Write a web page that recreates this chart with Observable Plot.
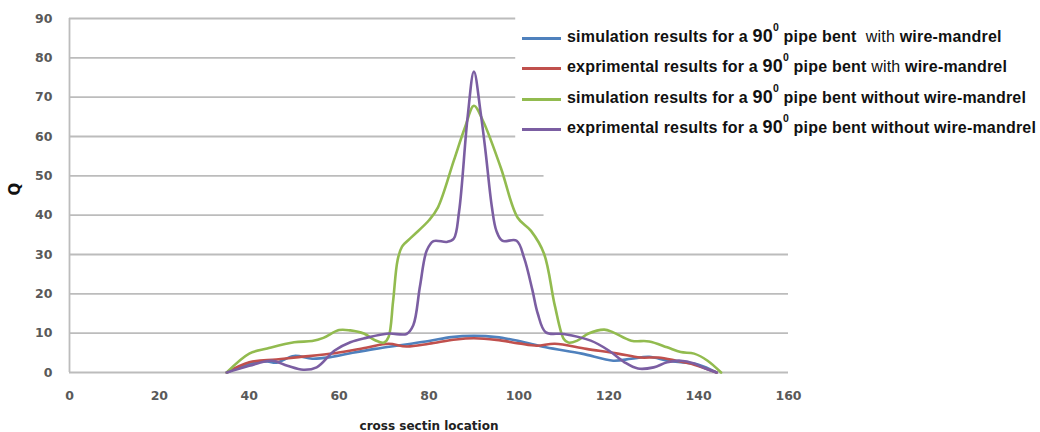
<!DOCTYPE html>
<html>
<head>
<meta charset="utf-8">
<script src="https://cdn.jsdelivr.net/npm/d3@7"></script>
<script src="https://cdn.jsdelivr.net/npm/@observablehq/plot@0.6"></script>
<style>
  html, body { margin: 0; padding: 0; background: #fff; }
  #wrap { position: relative; width: 1040px; height: 432px; overflow: hidden; }
  #legend { position: absolute; left: 522px; top: 21px; font-family: "Liberation Sans", Arial, sans-serif; color: #111; }
  .row { display: flex; align-items: center; height: 30.5px; white-space: pre; }
  .sw { width: 39px; height: 3px; margin-right: 6px; margin-top: 4px; }
  .t { font-size: 16px; font-weight: bold; letter-spacing: 0.2px; }
  .n { font-size: 18px; font-weight: bold; }
  .sup { font-size: 10.5px; font-weight: bold; position: relative; top: -11px; }
  .lt { font-weight: normal; }
</style>
</head>
<body>
<div id="wrap"><div id="legend"></div></div>
<script>
// ---- data ----
const xTicks = [0, 20, 40, 60, 80, 100, 120, 140, 160];
const yTicks = [0, 10, 20, 30, 40, 50, 60, 70, 80, 90];

const seriesNames = [
  "simulation results for a 90 pipe bent with wire-mandrel",
  "exprimental results for a 90 pipe bent with wire-mandrel",
  "simulation results for a 90 pipe bent without wire-mandrel",
  "exprimental results for a 90 pipe bent without wire-mandrel"
];
const seriesColors = ["#4f81bd", "#c0504d", "#92bb4f", "#7b5ea2"];

const simWithX = [35, 40, 44, 46, 50, 54, 58, 63, 68, 74, 80, 85, 90, 95, 100, 106, 114, 121, 125, 129, 133, 136, 140, 144];
const simWithQ = [0, 2.2, 2.8, 2.5, 4.2, 3.5, 3.9, 5, 6, 7, 8, 9, 9.3, 9, 8, 6.4, 4.8, 3, 3.5, 4, 3, 2.6, 2, 0];

const expWithX = [35, 40, 46, 51, 59, 66, 71, 75, 80, 86, 90, 95, 100, 104, 108, 115, 122, 127, 131, 135, 139, 144];
const expWithQ = [0, 2.6, 3.3, 3.9, 4.9, 6.3, 7.3, 6.6, 7.3, 8.4, 8.7, 8.3, 7.4, 6.8, 7.3, 6, 4.8, 3.8, 3.8, 3, 2, 0];

const simWithoutX = [35, 40, 44, 50, 54, 56.5, 60, 62.5, 65.5, 68, 70, 71, 72, 73, 74, 76.3, 80, 82, 85.5, 88, 90, 92, 96, 99.7, 102.7, 105.6, 108, 110, 111, 113, 115.5, 119, 121, 125, 129, 133, 136, 139, 142, 145];
const simWithoutQ = [0, 4.8, 6.1, 7.7, 8, 8.8, 10.8, 10.7, 9.9, 8.2, 7.6, 9, 18, 28.5, 32, 34.6, 38.7, 42, 53.8, 62.3, 67.8, 64, 52, 39.4, 36, 30.2, 17, 8.5, 7.6, 8.1, 9.9, 10.9, 10.2, 8.1, 7.9, 6.4, 5.2, 4.8, 3, 0];

const expWithoutX = [35, 40, 45, 48.5, 52, 55, 59, 62.5, 66, 71, 75, 76.5, 78, 79.5, 81, 84, 85.5, 86.7, 88.6, 90, 91.5, 92.6, 94, 95, 96.3, 99.5, 101.2, 103, 104.2, 106, 110, 116, 120, 123.5, 126.5, 130, 133, 136, 139, 141.5, 144];
const expWithoutQ = [0, 1.7, 3, 1.7, 0.7, 1.3, 5.6, 7.7, 8.8, 9.9, 9.8, 12, 22, 31, 33.4, 33.2, 34, 41, 65, 76.5, 66, 56, 42, 36, 33.5, 33.5, 29, 21, 15, 10.2, 9.8, 8.1, 5.6, 2.6, 1, 1.3, 2.6, 3, 2.3, 1, 0];

// ---- build table ----
const xs = [simWithX, expWithX, simWithoutX, expWithoutX];
const qs = [simWithQ, expWithQ, simWithoutQ, expWithoutQ];
const rows = [];
xs.forEach((arr, i) => arr.forEach((x, j) => rows.push({series: seriesNames[i], x, q: qs[i][j]})));

// grid lines hidden behind the legend box end earlier
const gridEnd = q => q >= 60 ? 99.3 : q >= 40 ? 105.6 : 160;

const chart = Plot.plot({
  width: 1040,
  height: 432,
  marginLeft: 69,
  marginRight: 252,
  marginTop: 18,
  marginBottom: 60,
  style: {fontFamily: "'DejaVu Sans', sans-serif", fontSize: "12.5px", fontWeight: "bold", color: "#595959", background: "#fff"},
  x: {domain: [0, 160]},
  y: {domain: [0, 90]},
  color: {domain: seriesNames, range: seriesColors},
  marks: [
    Plot.ruleY(yTicks, {y: d => d, x1: 0, x2: d => gridEnd(d), stroke: "#bcbcbc", strokeWidth: 1.8}),
    Plot.ruleX([0], {y1: 0, y2: 90, stroke: "#bcbcbc", strokeWidth: 1.8}),
    Plot.axisX({ticks: xTicks, tickSize: 0, tickPadding: 19, label: null}),
    Plot.axisY({ticks: yTicks, tickSize: 0, tickPadding: 17, label: null}),
    Plot.line(rows, {x: "x", y: "q", z: "series", stroke: "series", strokeWidth: 2.6, curve: "catmull-rom"}),
    Plot.text(["cross sectin location"], {frameAnchor: "bottom", dy: 57, fill: "#222", fontSize: 12, fontWeight: "bold"}),
    Plot.text(["Q"], {frameAnchor: "left", dx: -54, rotate: -90, fill: "#111", fontSize: 15, fontWeight: "bold"})
  ]
});
document.getElementById("wrap").prepend(chart);

// ---- legend ----
const legend = document.getElementById("legend");
const parts = [
  ["simulation results for a ", " pipe bent  ", "with", " wire-mandrel", true],
  ["exprimental results for a ", " pipe bent ", "with", " wire-mandrel", true],
  ["simulation results for a ", " pipe bent ", "without", " wire-mandrel", false],
  ["exprimental results for a ", " pipe bent ", "without", " wire-mandrel", false]
];
parts.forEach((p, i) => {
  const row = document.createElement("div");
  row.className = "row";
  row.innerHTML = `<div class="sw" style="background:${seriesColors[i]}"></div>` +
    `<span class="t">${p[0]}<span class="n">90</span><span class="sup">0</span>${p[1]}<span class="${p[4] ? "lt" : ""}">${p[2]}</span>${p[3]}</span>`;
  legend.appendChild(row);
});
</script>
</body>
</html>
